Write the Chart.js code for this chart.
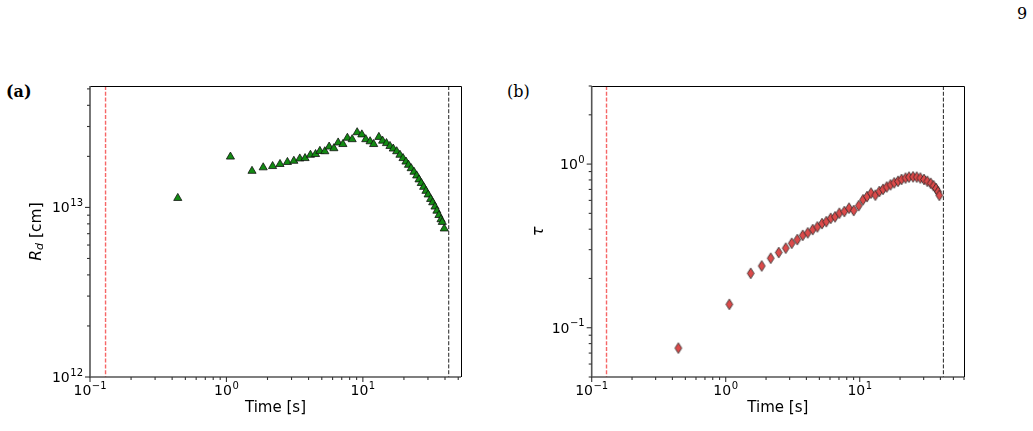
<!DOCTYPE html>
<html>
<head>
<meta charset="utf-8">
<script src="https://cdn.jsdelivr.net/npm/chart.js@4.4.1/dist/chart.umd.min.js"></script>
<style>
  body { margin: 0; background: #fff; width: 1033px; height: 431px; position: relative; overflow: hidden; }
  canvas { position: absolute; top: 0; }
  #chartA { left: 0; }
  #chartB { left: 516px; }
  .lbl { position: absolute; font-family: "DejaVu Serif", "Liberation Serif", serif; font-size: 16px; color: #000; }
</style>
</head>
<body>
<div class="lbl" style="left:1017px;top:4px">9</div>
<div class="lbl" style="left:6px;top:82px;font-weight:bold">(a)</div>
<div class="lbl" style="left:507px;top:82px">(b)</div>
<canvas id="chartA" width="500" height="431"></canvas>
<canvas id="chartB" width="517" height="431"></canvas>
<script>
// panel (a): dust radius vs time
const timeA = [0.44, 1.07, 1.54, 1.86, 2.18, 2.47, 2.80, 3.12, 3.45, 3.77, 4.13, 4.50, 4.84, 5.26, 5.66, 6.13, 6.59,
  7.14, 7.70, 8.35, 9.08, 9.83, 10.5, 11.3, 12.0, 13.1, 13.95, 14.9, 15.8, 16.7, 17.7, 18.7, 19.7, 20.7, 21.6, 22.6,
  23.7, 24.8, 25.8, 26.8, 27.9, 29.0, 30.1, 31.4, 32.5, 33.8, 34.9, 36.1, 37.4, 38.2, 39.5];
const radiusA = [1.135e13, 1.99e13, 1.64e13, 1.72e13, 1.75e13, 1.80e13, 1.85e13, 1.88e13, 1.94e13, 1.95e13, 2.04e13,
  2.06e13, 2.15e13, 2.14e13, 2.28e13, 2.23e13, 2.41e13, 2.36e13, 2.57e13, 2.52e13, 2.77e13, 2.69e13, 2.52e13, 2.45e13,
  2.36e13, 2.60e13, 2.47e13, 2.39e13, 2.30e13, 2.22e13, 2.14e13, 2.04e13, 1.95e13, 1.86e13, 1.78e13, 1.70e13, 1.62e13,
  1.54e13, 1.46e13, 1.39e13, 1.32e13, 1.25e13, 1.19e13, 1.12e13, 1.07e13, 1.01e13, 9.55e12, 9.0e12, 8.5e12, 8.2e12, 7.5e12];

// panel (b): optical depth vs time
const timeB = [0.443, 1.064, 1.537, 1.856, 2.167, 2.486, 2.804, 3.108, 3.421, 3.755, 4.092, 4.460, 4.826, 5.232, 5.631,
  6.074, 6.544, 7.044, 7.676, 8.322, 9.020, 9.829, 10.58, 11.34, 12.14, 13.08, 14.01, 14.93, 15.91, 16.98, 18.09, 19.32,
  20.51, 21.97, 23.33, 24.99, 26.63, 28.33, 30.19, 31.95, 33.88, 35.54, 37.10, 38.40, 39.27];
const tauB = [0.0751, 0.139, 0.215, 0.2385, 0.266, 0.288, 0.3065, 0.328, 0.3455, 0.367, 0.380, 0.398, 0.413, 0.433, 0.445,
  0.466, 0.476, 0.501, 0.513, 0.538, 0.520, 0.557, 0.605, 0.633, 0.665, 0.646, 0.680, 0.701, 0.725, 0.747, 0.768, 0.785,
  0.805, 0.821, 0.8325, 0.836, 0.8325, 0.822, 0.805, 0.785, 0.763, 0.737, 0.709, 0.677, 0.644];

// reference lines (s)
const startLineA = 0.130, endLineA = 42.6;
const startLineB = 0.129, endLineB = 42.1;

// tick labels: base and exponent
const xTickValues = [0.1, 1, 10];
const xTickExps = ['\u22121', '0', '1'];
const yTickValuesA = [1e12, 1e13];
const yTickExpsA = ['12', '13'];
const yTickValuesB = [0.1, 1];
const yTickExpsB = ['\u22121', '0'];

const FONT = '"DejaVu Sans", sans-serif';
const BASE_FONT = '14px ' + FONT;
const EXP_FONT = '10px ' + FONT;

function minorTicks(lo, hi) {
  const out = [];
  for (let e = Math.floor(Math.log10(lo)); e <= Math.ceil(Math.log10(hi)); e++) {
    for (let m = 2; m <= 9; m++) {
      const v = m * Math.pow(10, e);
      if (v >= lo * 0.999 && v <= hi * 1.001) out.push(v);
    }
  }
  return out;
}

function thinDiamond(fill) {
  const c = document.createElement('canvas');
  c.width = 10; c.height = 13;
  const g = c.getContext('2d');
  g.beginPath();
  g.moveTo(5, 1.2); g.lineTo(8.4, 6.5); g.lineTo(5, 11.8); g.lineTo(1.6, 6.5); g.closePath();
  g.fillStyle = fill; g.fill();
  g.lineWidth = 0.8; g.strokeStyle = '#222'; g.stroke();
  return c;
}

// draws "10" with a raised exponent; align 'center' or 'right'
function powerLabel(ctx, exp, x, baseline, align) {
  ctx.font = BASE_FONT;
  const wb = ctx.measureText('10').width;
  ctx.font = EXP_FONT;
  const we = ctx.measureText(exp).width;
  const total = wb + we + 0.5;
  const x0 = align === 'center' ? x - total / 2 : x - total;
  ctx.textAlign = 'left';
  ctx.textBaseline = 'alphabetic';
  ctx.font = BASE_FONT;
  ctx.fillText('10', x0, baseline);
  ctx.font = EXP_FONT;
  ctx.fillText(exp, x0 + wb + 0.5, baseline - 6.5);
}

// spines, ticks, tick labels, dashed lines and the y title
const decor = {
  id: 'decor',
  beforeDatasetsDraw(chart, args, o) {
    const ctx = chart.ctx, a = chart.chartArea, xs = chart.scales.x;
    ctx.save();
    ctx.lineWidth = 1.4;
    ctx.setLineDash([4, 1.8]);
    ctx.strokeStyle = 'rgba(245,85,85,0.9)';
    let px = xs.getPixelForValue(o.startLine);
    ctx.beginPath(); ctx.moveTo(px, a.top); ctx.lineTo(px, a.bottom); ctx.stroke();
    ctx.strokeStyle = '#222';
    ctx.lineWidth = 1;
    px = xs.getPixelForValue(o.endLine);
    ctx.beginPath(); ctx.moveTo(px, a.top); ctx.lineTo(px, a.bottom); ctx.stroke();
    ctx.restore();
  },
  afterDraw(chart, args, o) {
    const ctx = chart.ctx, a = chart.chartArea, xs = chart.scales.x, ys = chart.scales.y;
    ctx.save();
    // spines
    ctx.strokeStyle = '#000'; ctx.lineWidth = 1;
    ctx.beginPath();
    ctx.moveTo(a.left, a.top + 0.5); ctx.lineTo(a.right + 0.5, a.top + 0.5); ctx.lineTo(a.right + 0.5, a.bottom);
    ctx.stroke();
    ctx.strokeStyle = '#555'; ctx.lineWidth = 1.6;
    ctx.beginPath();
    ctx.moveTo(a.left, a.top); ctx.lineTo(a.left, a.bottom); ctx.lineTo(a.right, a.bottom);
    ctx.stroke();
    // ticks
    ctx.strokeStyle = '#333'; ctx.lineWidth = 1.1;
    const tick = (x1, y1, x2, y2) => { ctx.beginPath(); ctx.moveTo(x1, y1); ctx.lineTo(x2, y2); ctx.stroke(); };
    xTickValues.forEach(v => { const p = xs.getPixelForValue(v); tick(p, a.bottom, p, a.bottom + 5); });
    minorTicks(xs.min, xs.max).forEach(v => { const p = xs.getPixelForValue(v); tick(p, a.bottom, p, a.bottom + 3); });
    o.yMajor.forEach(v => { const p = ys.getPixelForValue(v); tick(a.left, p, a.left - 5, p); });
    minorTicks(ys.min, ys.max).forEach(v => { const p = ys.getPixelForValue(v); tick(a.left, p, a.left - 3, p); });
    // tick labels
    ctx.fillStyle = '#000';
    xTickValues.forEach((v, i) => powerLabel(ctx, xTickExps[i], xs.getPixelForValue(v), a.bottom + 18, 'center'));
    o.yMajor.forEach((v, i) => powerLabel(ctx, o.yExps[i], a.left - 7, ys.getPixelForValue(v) + 5, 'right'));
    // y title (with subscript)
    ctx.translate(o.titleX, (a.top + a.bottom) / 2);
    ctx.rotate(-Math.PI / 2);
    ctx.textAlign = 'left';
    ctx.textBaseline = 'middle';
    const parts = o.yTitle.map(p => {
      ctx.font = p.font;
      return Object.assign({ w: ctx.measureText(p.text).width }, p);
    });
    let x = -parts.reduce((s, p) => s + p.w, 0) / 2;
    parts.forEach(p => {
      ctx.font = p.font;
      ctx.fillText(p.text, x, p.dy || 0);
      x += p.w;
    });
    ctx.restore();
  }
};

function makeChart(id, cfg) {
  const c = document.getElementById(id);
  return new Chart(c, {
    type: 'scatter',
    data: {
      datasets: [{
        data: cfg.xs.map((t, i) => ({ x: t, y: cfg.ys[i] })),
        pointStyle: cfg.pointStyle,
        pointRadius: cfg.radius,
        backgroundColor: cfg.fill,
        borderColor: '#111',
        borderWidth: 0.8
      }]
    },
    options: {
      responsive: false,
      animation: false,
      events: [],
      layout: { padding: cfg.padding },
      plugins: {
        legend: { display: false },
        tooltip: { enabled: false },
        decor: {
          startLine: cfg.startLine, endLine: cfg.endLine,
          yMajor: cfg.yTickValues, yExps: cfg.yTickExps,
          yTitle: cfg.yTitle, titleX: cfg.titleX
        }
      },
      scales: {
        x: {
          type: 'logarithmic', min: cfg.xMin, max: cfg.xMax,
          grid: { display: false, drawTicks: false },
          border: { display: false },
          afterBuildTicks: s => { s.ticks = xTickValues.map(v => ({ value: v })); },
          afterFit: s => { s.height = cfg.xHeight; },
          ticks: { display: false },
          title: {
            display: true, text: 'Time [s]', color: '#000',
            font: { family: FONT, size: 15 }, padding: { top: 0, bottom: 14 }
          }
        },
        y: {
          type: 'logarithmic', min: cfg.yMin, max: cfg.yMax,
          grid: { display: false, drawTicks: false },
          border: { display: false },
          afterBuildTicks: s => { s.ticks = cfg.yTickValues.map(v => ({ value: v })); },
          afterFit: s => { s.width = cfg.yWidth; },
          ticks: { display: false }
        }
      }
    },
    plugins: [decor]
  });
}

makeChart('chartA', {
  xs: timeA, ys: radiusA,
  pointStyle: 'triangle', radius: 4.7, fill: '#138a13',
  xMin: 0.1, xMax: 52.4, yMin: 1e12, yMax: 5.2e13,
  yTickValues: yTickValuesA, yTickExps: yTickExpsA,
  startLine: startLineA, endLine: endLineA,
  padding: { left: 0, top: 86, right: 39, bottom: 0 },
  yWidth: 90, xHeight: 54, titleX: 37,
  yTitle: [
    { text: 'R', font: 'italic 15.5px ' + FONT },
    { text: 'd', font: 'italic 11px ' + FONT, dy: 3 },
    { text: ' [cm]', font: '15.5px ' + FONT }
  ]
});

makeChart('chartB', {
  xs: timeB, ys: tauB,
  pointStyle: thinDiamond('#dc4a4a'), radius: 5, fill: '#dc4a4a',
  xMin: 0.1, xMax: 60, yMin: 0.05, yMax: 3.0,
  yTickValues: yTickValuesB, yTickExps: yTickExpsB,
  startLine: startLineB, endLine: endLineB,
  padding: { left: 0, top: 86, right: 69, bottom: 0 },
  yWidth: 75.7, xHeight: 54, titleX: 23,
  yTitle: [
    { text: '\u03C4', font: 'italic 16px ' + FONT }
  ]
});
</script>
</body>
</html>
